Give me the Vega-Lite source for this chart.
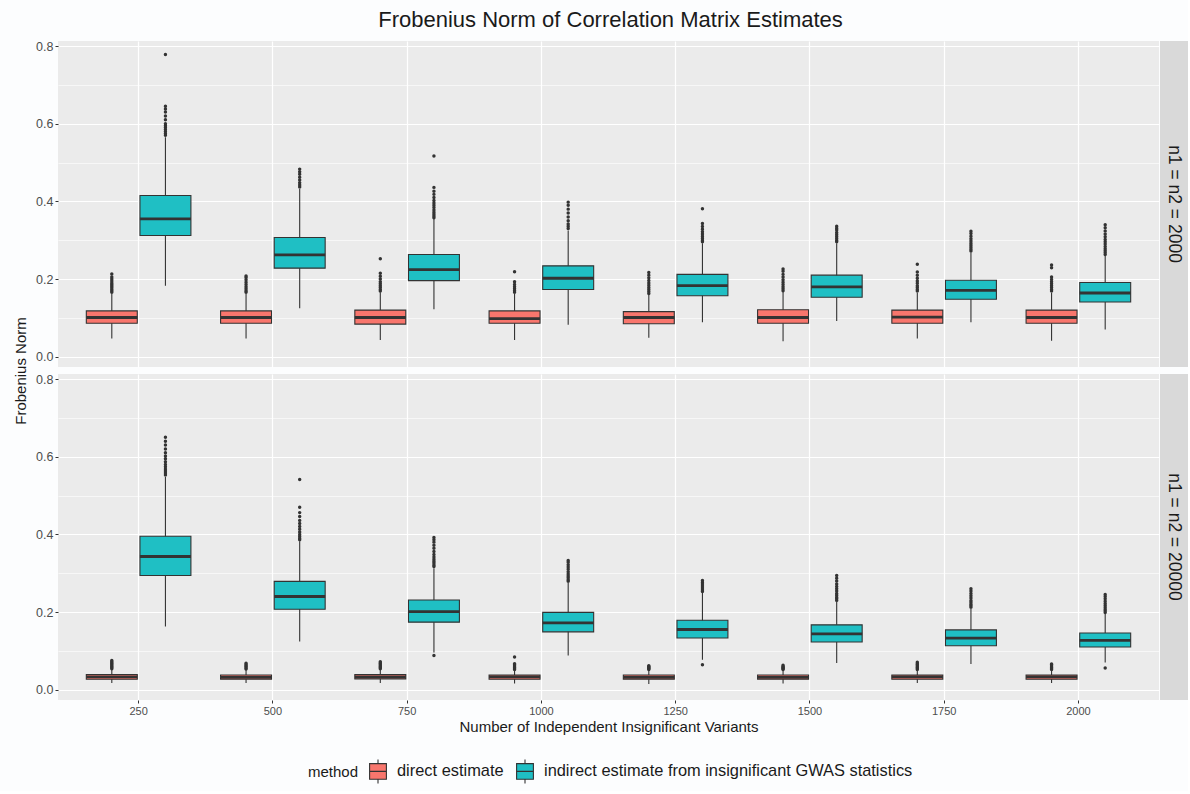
{
  "$schema": "https://vega.github.io/schema/vega-lite/v6.json",
  "background": "#fcfdfe",
  "padding": {"left": 13, "top": 9, "right": 0, "bottom": 5},
  "title": {"text": "Frobenius Norm of Correlation Matrix Estimates", "fontSize": 22, "fontWeight": "normal", "color": "#1a1a1a", "anchor": "middle", "offset": 8, "dx": 10},
  "datasets": {
    "box": [
      {"panel":"n1 = n2 = 2000","variants":250,"method":"direct estimate","lo":0.047,"q1":0.086,"med":0.101,"q3":0.118,"hi":0.163,"outliers":[0.166,0.170,0.174,0.178,0.182,0.186,0.190,0.195,0.200,0.205,0.213]},
      {"panel":"n1 = n2 = 2000","variants":250,"method":"indirect estimate from insignificant GWAS statistics","lo":0.183,"q1":0.312,"med":0.355,"q3":0.415,"hi":0.565,"outliers":[0.570,0.575,0.580,0.585,0.590,0.595,0.600,0.610,0.620,0.630,0.638,0.645,0.778]},
      {"panel":"n1 = n2 = 2000","variants":500,"method":"direct estimate","lo":0.047,"q1":0.086,"med":0.101,"q3":0.118,"hi":0.163,"outliers":[0.166,0.170,0.175,0.180,0.186,0.192,0.198,0.204,0.208]},
      {"panel":"n1 = n2 = 2000","variants":500,"method":"indirect estimate from insignificant GWAS statistics","lo":0.125,"q1":0.228,"med":0.262,"q3":0.307,"hi":0.432,"outliers":[0.437,0.442,0.448,0.455,0.462,0.470,0.476,0.483]},
      {"panel":"n1 = n2 = 2000","variants":750,"method":"direct estimate","lo":0.043,"q1":0.084,"med":0.101,"q3":0.120,"hi":0.166,"outliers":[0.169,0.173,0.178,0.183,0.188,0.193,0.200,0.207,0.215,0.252]},
      {"panel":"n1 = n2 = 2000","variants":750,"method":"indirect estimate from insignificant GWAS statistics","lo":0.122,"q1":0.196,"med":0.224,"q3":0.263,"hi":0.355,"outliers":[0.358,0.362,0.367,0.372,0.378,0.384,0.390,0.396,0.402,0.410,0.418,0.426,0.436,0.517]},
      {"panel":"n1 = n2 = 2000","variants":1000,"method":"direct estimate","lo":0.043,"q1":0.086,"med":0.098,"q3":0.118,"hi":0.162,"outliers":[0.166,0.170,0.175,0.180,0.186,0.193,0.219]},
      {"panel":"n1 = n2 = 2000","variants":1000,"method":"indirect estimate from insignificant GWAS statistics","lo":0.082,"q1":0.173,"med":0.202,"q3":0.234,"hi":0.325,"outliers":[0.330,0.336,0.342,0.350,0.360,0.370,0.380,0.390,0.398]},
      {"panel":"n1 = n2 = 2000","variants":1250,"method":"direct estimate","lo":0.049,"q1":0.085,"med":0.101,"q3":0.116,"hi":0.159,"outliers":[0.163,0.168,0.173,0.178,0.184,0.190,0.196,0.203,0.210,0.217]},
      {"panel":"n1 = n2 = 2000","variants":1250,"method":"indirect estimate from insignificant GWAS statistics","lo":0.089,"q1":0.157,"med":0.183,"q3":0.212,"hi":0.292,"outliers":[0.296,0.300,0.305,0.310,0.316,0.322,0.328,0.335,0.343,0.381]},
      {"panel":"n1 = n2 = 2000","variants":1500,"method":"direct estimate","lo":0.040,"q1":0.086,"med":0.101,"q3":0.121,"hi":0.167,"outliers":[0.170,0.175,0.180,0.186,0.192,0.198,0.205,0.212,0.220,0.226]},
      {"panel":"n1 = n2 = 2000","variants":1500,"method":"indirect estimate from insignificant GWAS statistics","lo":0.092,"q1":0.153,"med":0.180,"q3":0.210,"hi":0.292,"outliers":[0.296,0.300,0.305,0.310,0.315,0.320,0.326,0.331,0.336]},
      {"panel":"n1 = n2 = 2000","variants":1750,"method":"direct estimate","lo":0.047,"q1":0.086,"med":0.102,"q3":0.120,"hi":0.165,"outliers":[0.169,0.173,0.178,0.183,0.189,0.195,0.202,0.210,0.218,0.238]},
      {"panel":"n1 = n2 = 2000","variants":1750,"method":"indirect estimate from insignificant GWAS statistics","lo":0.089,"q1":0.148,"med":0.171,"q3":0.197,"hi":0.268,"outliers":[0.272,0.277,0.282,0.287,0.292,0.298,0.304,0.310,0.317,0.323]},
      {"panel":"n1 = n2 = 2000","variants":2000,"method":"direct estimate","lo":0.041,"q1":0.086,"med":0.101,"q3":0.120,"hi":0.165,"outliers":[0.169,0.173,0.178,0.183,0.188,0.193,0.199,0.205,0.229,0.236]},
      {"panel":"n1 = n2 = 2000","variants":2000,"method":"indirect estimate from insignificant GWAS statistics","lo":0.070,"q1":0.141,"med":0.164,"q3":0.191,"hi":0.259,"outliers":[0.263,0.268,0.273,0.278,0.284,0.290,0.296,0.302,0.309,0.316,0.324,0.332,0.340]},
      {"panel":"n1 = n2 = 20000","variants":250,"method":"direct estimate","lo":0.017,"q1":0.027,"med":0.033,"q3":0.039,"hi":0.052,"outliers":[0.054,0.057,0.060,0.063,0.066,0.069,0.072,0.075]},
      {"panel":"n1 = n2 = 20000","variants":250,"method":"indirect estimate from insignificant GWAS statistics","lo":0.163,"q1":0.294,"med":0.343,"q3":0.395,"hi":0.548,"outliers":[0.553,0.558,0.563,0.568,0.574,0.580,0.587,0.595,0.602,0.610,0.620,0.630,0.640,0.650]},
      {"panel":"n1 = n2 = 20000","variants":500,"method":"direct estimate","lo":0.017,"q1":0.027,"med":0.032,"q3":0.038,"hi":0.051,"outliers":[0.053,0.056,0.059,0.062,0.065,0.068]},
      {"panel":"n1 = n2 = 20000","variants":500,"method":"indirect estimate from insignificant GWAS statistics","lo":0.124,"q1":0.207,"med":0.240,"q3":0.279,"hi":0.382,"outliers":[0.386,0.390,0.395,0.400,0.406,0.413,0.420,0.428,0.436,0.446,0.456,0.470,0.541]},
      {"panel":"n1 = n2 = 20000","variants":750,"method":"direct estimate","lo":0.017,"q1":0.028,"med":0.033,"q3":0.039,"hi":0.052,"outliers":[0.054,0.057,0.060,0.063,0.066,0.069,0.072]},
      {"panel":"n1 = n2 = 20000","variants":750,"method":"indirect estimate from insignificant GWAS statistics","lo":0.096,"q1":0.174,"med":0.201,"q3":0.231,"hi":0.313,"outliers":[0.088,0.317,0.321,0.326,0.331,0.336,0.342,0.348,0.356,0.364,0.372,0.380,0.386,0.392]},
      {"panel":"n1 = n2 = 20000","variants":1000,"method":"direct estimate","lo":0.016,"q1":0.027,"med":0.033,"q3":0.038,"hi":0.050,"outliers":[0.052,0.055,0.058,0.061,0.064,0.067,0.084]},
      {"panel":"n1 = n2 = 20000","variants":1000,"method":"indirect estimate from insignificant GWAS statistics","lo":0.088,"q1":0.149,"med":0.172,"q3":0.199,"hi":0.275,"outliers":[0.279,0.283,0.288,0.293,0.298,0.304,0.310,0.316,0.322,0.328,0.333]},
      {"panel":"n1 = n2 = 20000","variants":1250,"method":"direct estimate","lo":0.015,"q1":0.027,"med":0.032,"q3":0.038,"hi":0.050,"outliers":[0.052,0.054,0.056,0.058,0.060,0.062]},
      {"panel":"n1 = n2 = 20000","variants":1250,"method":"indirect estimate from insignificant GWAS statistics","lo":0.077,"q1":0.133,"med":0.155,"q3":0.179,"hi":0.249,"outliers":[0.064,0.253,0.257,0.262,0.267,0.272,0.277,0.281]},
      {"panel":"n1 = n2 = 20000","variants":1500,"method":"direct estimate","lo":0.016,"q1":0.027,"med":0.032,"q3":0.038,"hi":0.050,"outliers":[0.052,0.054,0.056,0.058,0.060,0.063]},
      {"panel":"n1 = n2 = 20000","variants":1500,"method":"indirect estimate from insignificant GWAS statistics","lo":0.069,"q1":0.123,"med":0.144,"q3":0.167,"hi":0.226,"outliers":[0.230,0.234,0.238,0.243,0.248,0.254,0.260,0.266,0.272,0.280,0.287,0.294]},
      {"panel":"n1 = n2 = 20000","variants":1750,"method":"direct estimate","lo":0.017,"q1":0.027,"med":0.033,"q3":0.038,"hi":0.050,"outliers":[0.052,0.055,0.058,0.061,0.064,0.067,0.071]},
      {"panel":"n1 = n2 = 20000","variants":1750,"method":"indirect estimate from insignificant GWAS statistics","lo":0.066,"q1":0.113,"med":0.133,"q3":0.154,"hi":0.208,"outliers":[0.212,0.216,0.220,0.225,0.230,0.236,0.242,0.248,0.254,0.260]},
      {"panel":"n1 = n2 = 20000","variants":2000,"method":"direct estimate","lo":0.017,"q1":0.027,"med":0.033,"q3":0.038,"hi":0.050,"outliers":[0.052,0.055,0.058,0.061,0.064,0.066]},
      {"panel":"n1 = n2 = 20000","variants":2000,"method":"indirect estimate from insignificant GWAS statistics","lo":0.070,"q1":0.110,"med":0.127,"q3":0.146,"hi":0.195,"outliers":[0.056,0.199,0.203,0.207,0.212,0.217,0.222,0.228,0.234,0.240,0.245]}
    ]
  },
  "config": {
    "font": "Liberation Sans",
    "view": {"stroke": null},
    "axis": {"domain": false, "gridColor": "#ffffff", "gridWidth": 1.2, "tickColor": "#333333", "tickSize": 3, "labelColor": "#4d4d4d", "labelFontSize": 12.5, "titleColor": "#1a1a1a", "titleFontSize": 15, "titleFontWeight": "normal", "labelPadding": 2},
    "legend": {"orient": "none", "legendX": 250, "legendY": 717, "direction": "horizontal", "titleOrient": "left", "titleFontSize": 15, "titleFontWeight": "normal", "titleColor": "#1a1a1a", "labelFontSize": 16.4, "labelColor": "#1a1a1a", "labelLimit": 600, "symbolType": "M-0.7,-0.65H0.7V0.65H-0.7Z M-0.7,0H0.7 M0,-0.65V-1 M0,0.65V1", "symbolSize": 576, "symbolStrokeColor": "#333333", "symbolStrokeWidth": 1.1, "symbolOpacity": 1, "columnPadding": 8, "labelOffset": 6, "titlePadding": 6}
  },
  "data": {"name": "box"},
  "spacing": 1,
  "hconcat": [
    {
      "spacing": 7,
      "bounds": "flush",
      "vconcat": [
        {
          "width": 1101, "height": 326,
          "view": {"fill": "#ebebeb", "stroke": null},
          "transform": [{"filter": "datum.panel === 'n1 = n2 = 2000'"}],
          "encoding": {
            "x": {"field": "variants", "type": "ordinal", "scale": {"type": "band", "paddingInner": 0.221, "paddingOuter": 0.211}, "axis": {"labels": false, "ticks": false, "title": null, "grid": true, "bandPosition": 0.5}},
            "xOffset": {"field": "method", "type": "nominal", "scale": {"paddingInner": 0.05, "paddingOuter": 0}}
          },
          "layer": [
            {"mark": {"type": "rule", "color": "#333333", "strokeWidth": 1.1},
             "encoding": {"y": {"field": "lo", "type": "quantitative", "title": "Frobenius Norm", "scale": {"domain": [-0.0265, 0.8129], "nice": false, "zero": false},
               "axis": {"values": [0, 0.1, 0.2, 0.3, 0.4, 0.5, 0.6, 0.7, 0.8], "labelExpr": "round(datum.value*10) % 2 === 0 ? format(datum.value, '.1f') : ''", "gridWidth": {"condition": {"test": "round(datum.value*10) % 2 === 1", "value": 0.6}, "value": 1.2}, "tickColor": {"condition": {"test": "round(datum.value*10) % 2 === 1", "value": "transparent"}, "value": "#333333"}, "titleX": -38, "titleY": 329.5, "titleAlign": "center", "titleBaseline": "middle", "titleAngle": 270}},
               "y2": {"field": "hi"}}},
            {"mark": {"type": "bar", "stroke": "#333333", "strokeWidth": 1.1},
             "encoding": {"y": {"field": "q1", "type": "quantitative", "title": "Frobenius Norm"}, "y2": {"field": "q3"},
               "color": {"field": "method", "type": "nominal", "title": "method", "scale": {"domain": ["direct estimate", "indirect estimate from insignificant GWAS statistics"], "range": ["#F8766D", "#1FBFC4"]}}}},
            {"mark": {"type": "tick", "color": "#333333", "thickness": 2.8, "size": 51, "opacity": 1},
             "encoding": {"y": {"field": "med", "type": "quantitative", "title": "Frobenius Norm"}}},
            {"transform": [{"flatten": ["outliers"]}],
             "mark": {"type": "point", "filled": true, "color": "#333333", "size": 12, "opacity": 1},
             "encoding": {"y": {"field": "outliers", "type": "quantitative", "title": "Frobenius Norm"}}}
          ]
        },
        {
          "width": 1101, "height": 326,
          "view": {"fill": "#ebebeb", "stroke": null},
          "transform": [{"filter": "datum.panel === 'n1 = n2 = 20000'"}],
          "encoding": {
            "x": {"field": "variants", "type": "ordinal", "scale": {"type": "band", "paddingInner": 0.221, "paddingOuter": 0.211}, "axis": {"labelAngle": 0, "labelFontSize": 11, "title": "Number of Independent Insignificant Variants", "titlePadding": 3, "grid": true, "bandPosition": 0.5}},
            "xOffset": {"field": "method", "type": "nominal", "scale": {"paddingInner": 0.05, "paddingOuter": 0}}
          },
          "layer": [
            {"mark": {"type": "rule", "color": "#333333", "strokeWidth": 1.1},
             "encoding": {"y": {"field": "lo", "type": "quantitative", "title": null, "scale": {"domain": [-0.0265, 0.8129], "nice": false, "zero": false},
               "axis": {"values": [0, 0.1, 0.2, 0.3, 0.4, 0.5, 0.6, 0.7, 0.8], "labelExpr": "round(datum.value*10) % 2 === 0 ? format(datum.value, '.1f') : ''", "gridWidth": {"condition": {"test": "round(datum.value*10) % 2 === 1", "value": 0.6}, "value": 1.2}, "tickColor": {"condition": {"test": "round(datum.value*10) % 2 === 1", "value": "transparent"}, "value": "#333333"}}},
               "y2": {"field": "hi"}}},
            {"mark": {"type": "bar", "stroke": "#333333", "strokeWidth": 1.1},
             "encoding": {"y": {"field": "q1", "type": "quantitative", "title": null}, "y2": {"field": "q3"},
               "color": {"field": "method", "type": "nominal", "title": "method", "scale": {"domain": ["direct estimate", "indirect estimate from insignificant GWAS statistics"], "range": ["#F8766D", "#1FBFC4"]}}}},
            {"mark": {"type": "tick", "color": "#333333", "thickness": 2.8, "size": 51, "opacity": 1},
             "encoding": {"y": {"field": "med", "type": "quantitative", "title": null}}},
            {"transform": [{"flatten": ["outliers"]}],
             "mark": {"type": "point", "filled": true, "color": "#333333", "size": 12, "opacity": 1},
             "encoding": {"y": {"field": "outliers", "type": "quantitative", "title": null}}}
          ]
        }
      ]
    },
    {
      "spacing": 7,
      "bounds": "flush",
      "vconcat": [
        {
          "width": 28, "height": 326,
          "view": {"fill": "#d9d9d9", "stroke": null},
          "data": {"values": [{"label": "n1 = n2 = 2000"}]},
          "mark": {"type": "text", "angle": 90, "fontSize": 17.5, "color": "#1a1a1a", "align": "center", "baseline": "middle"},
          "encoding": {"text": {"field": "label", "type": "nominal"}}
        },
        {
          "width": 28, "height": 326,
          "view": {"fill": "#d9d9d9", "stroke": null},
          "data": {"values": [{"label": "n1 = n2 = 20000"}]},
          "mark": {"type": "text", "angle": 90, "fontSize": 17.5, "color": "#1a1a1a", "align": "center", "baseline": "middle"},
          "encoding": {"text": {"field": "label", "type": "nominal"}}
        }
      ]
    }
  ]
}
